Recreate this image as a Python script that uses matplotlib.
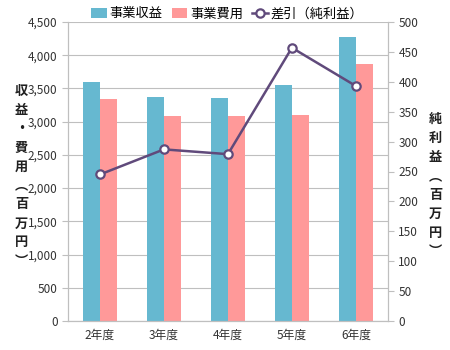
import matplotlib
matplotlib.use("Agg")
import matplotlib.pyplot as plt
import numpy as np

plt.rcParams['font.family'] = ['Noto Sans CJK JP', 'DejaVu Sans']

years = ["2年度", "3年度", "4年度", "5年度", "6年度"]
revenue = [3590, 3370, 3360, 3550, 4270]
expense = [3345, 3085, 3085, 3095, 3875]
profit = [245, 287, 279, 457, 393]

rev_color = "#66B8D0"
exp_color = "#FF9999"
line_color = "#604A7B"
grid_color = "#BFBFBF"

fig = plt.figure(figsize=(4.5, 3.5), dpi=100)
ax = fig.add_axes([0.151, 0.083, 0.711, 0.854])
ax2 = ax.twinx()

x = np.arange(len(years))
w = 0.27
ax.bar(x - w / 2, revenue, w, color=rev_color, label="事業収益", zorder=2)
ax.bar(x + w / 2, expense, w, color=exp_color, label="事業費用", zorder=2)

ax.set_xlim(-0.5, len(years) - 0.5)
ax.set_ylim(0, 4500)
ax.set_yticks(np.arange(0, 4501, 500))
ax.set_yticklabels([f"{v:,}" for v in range(0, 4501, 500)])
ax.yaxis.grid(True, color=grid_color, linewidth=0.8, zorder=0)
ax.set_axisbelow(True)
ax.set_xticks(x)
ax.set_xticklabels(years)

ax2.plot(x, profit, color=line_color, linewidth=1.8, marker="o", markersize=6,
         markerfacecolor="white", markeredgecolor=line_color, markeredgewidth=1.6,
         label="差引（純利益）", zorder=3)
ax2.set_ylim(0, 500)
ax2.set_yticks(np.arange(0, 501, 50))

for a in (ax, ax2):
    a.spines["top"].set_visible(False)
    a.spines["left"].set_color(grid_color)
    a.spines["right"].set_color(grid_color)
    a.spines["bottom"].set_color(grid_color)
    a.tick_params(axis="both", labelsize=8.5, colors="#333333", length=4, color=grid_color)
ax.tick_params(axis="x", length=0, pad=6)

# vertical axis titles: one character per line, vertical-form brackets
left_title = "\n".join("収益・費用︵百万円︶")
right_title = "\n".join("純利益︵百万円︶")
fig.text(0.048, 0.497, left_title, ha="center", va="center", fontsize=9.5,
         fontweight="bold", linespacing=1.45, color="#202020")
fig.text(0.968, 0.471, right_title, ha="center", va="center", fontsize=9.5,
         fontweight="bold", linespacing=1.45, color="#202020")

h1, l1 = ax.get_legend_handles_labels()
h2, l2 = ax2.get_legend_handles_labels()
fig.legend(h1 + h2, l1 + l2, loc="center", bbox_to_anchor=(0.505, 0.96), ncol=3,
           frameon=False, fontsize=9.5, handlelength=1.2, handletextpad=0.2,
           columnspacing=0.7, borderaxespad=0)

fig.savefig("out.png", dpi=100)
